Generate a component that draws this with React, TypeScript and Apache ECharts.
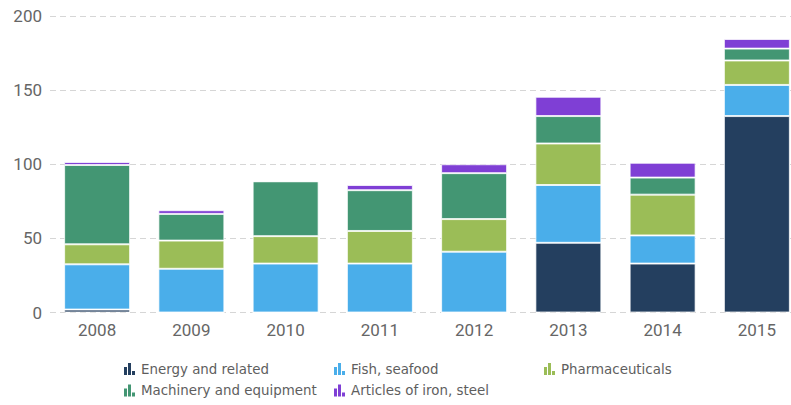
import React, { useEffect, useRef } from "react";
import * as echarts from "echarts";

const years = ["2008", "2009", "2010", "2011", "2012", "2013", "2014", "2015"];
const energy = [2, 0, 0, 0, 0, 47, 33, 132.5];
const fish = [30.5, 29.5, 33, 33, 41, 39, 19, 21];
const pharma = [13.5, 19, 18.5, 22, 22, 28, 27.5, 16.5];
const machinery = [53.5, 18, 37, 27.5, 31, 18.5, 11.5, 8];
const articles = [2, 2.5, 0, 3.5, 6, 13, 10, 6.5];
const yTicks = [0, 50, 100, 150, 200];

const seriesDefs = [
  { name: "Energy and related", data: energy, color: "#243f5f" },
  { name: "Fish, seafood", data: fish, color: "#4aaeea" },
  { name: "Pharmaceuticals", data: pharma, color: "#9bbd57" },
  { name: "Machinery and equipment", data: machinery, color: "#439673" },
  { name: "Articles of iron, steel", data: articles, color: "#7f3fd5" },
];

const ICON =
  "path://M0,4L3,4L3,12L0,12Z M4,0L7,0L7,12L4,12Z M8,8L11,8L11,12L8,12Z";

export default function App() {
  const ref = useRef<HTMLDivElement>(null);
  useEffect(() => {
    if (!ref.current) return;
    const chart = echarts.init(ref.current, undefined, { renderer: "svg" });
    const legendCommon = {
      left: 119,
      orient: "horizontal",
      icon: ICON,
      itemWidth: 11,
      itemHeight: 12,
      itemGap: 8,
      selectedMode: false,
      itemStyle: { borderWidth: 0 },
      textStyle: {
        fontFamily: "DejaVu Sans",
        fontSize: 13.4,
        color: "#5e5e5e",
        width: 185,
        lineHeight: 16,
        padding: [0, 0, 0, 1],
      },
    };
    chart.setOption({
      animation: false,
      backgroundColor: "#fff",
      grid: { left: 50, top: 16, width: 754, height: 296.5 },
      legend: [
        { ...legendCommon, top: 356, data: seriesDefs.slice(0, 3).map((s) => s.name) },
        { ...legendCommon, top: 377.5, data: seriesDefs.slice(3).map((s) => s.name) },
      ],
      xAxis: {
        type: "category",
        data: years,
        axisLine: { show: false },
        axisTick: { show: false },
        axisLabel: {
          color: "#666",
          fontSize: 17,
          fontFamily: "Roboto",
          margin: 9,
        },
      },
      yAxis: {
        type: "value",
        min: yTicks[0],
        max: yTicks[yTicks.length - 1],
        interval: 50,
        axisLine: { show: false },
        axisTick: { show: false },
        axisLabel: {
          color: "#666",
          fontSize: 17,
          fontFamily: "Roboto",
          margin: 8,
        },
        splitLine: {
          lineStyle: { color: "#d6d6d6", type: [6, 4], width: 1.2 },
        },
      },
      series: seriesDefs.map((s) => ({
        name: s.name,
        type: "bar",
        stack: "total",
        data: s.data,
        barWidth: "70%",
        itemStyle: {
          color: s.color,
          borderColor: "rgba(255,255,255,0.75)",
          borderWidth: 1,
        },
      })),
    });
    return () => chart.dispose();
  }, []);
  return (
    <div
      style={{
        position: "fixed",
        left: 0,
        top: 0,
        width: 791,
        height: 405,
        overflow: "hidden",
        background: "#fff",
      }}
    >
      <div ref={ref} style={{ width: 820, height: 405 }} />
    </div>
  );
}
